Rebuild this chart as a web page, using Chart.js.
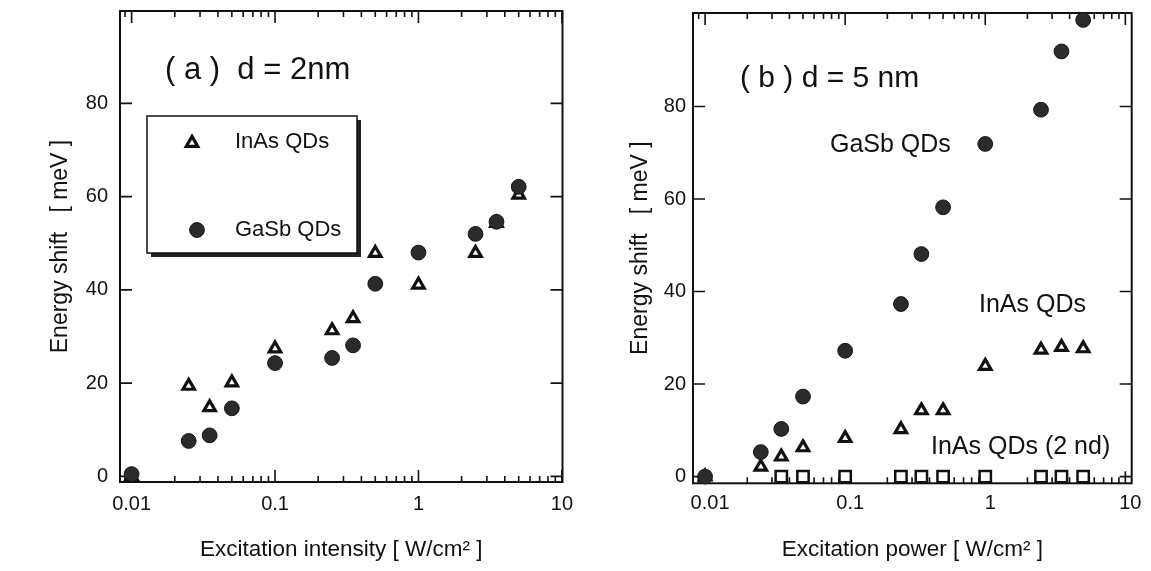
<!DOCTYPE html>
<html>
<head>
<meta charset="utf-8">
<script src="https://cdn.jsdelivr.net/npm/chart.js@4.4.0/dist/chart.umd.min.js"></script>
<style>
html, body { margin: 0; padding: 0; background: #fff; }
#wrap { position: relative; width: 1151px; height: 571px; }
canvas { position: absolute; top: 0; }
#chartA { left: 0; }
#chartB { left: 580px; }
</style>
</head>
<body>
<div id="wrap">
<canvas id="chartA" width="580" height="571"></canvas>
<canvas id="chartB" width="571" height="571"></canvas>
</div>
<script>
// excitation (W/cm2) and energy shift (meV)
const power = [0.01, 0.025, 0.035, 0.05, 0.1, 0.25, 0.35, 0.5, 1, 2.5, 3.5, 5];
const inasA = [0, 19.4, 14.8, 20.1, 27.4, 31.3, 33.9, 47.9, 41.1, 47.9, 54.3, 60.4];
const gasbA = [0.5, 7.6, 8.8, 14.6, 24.3, 25.4, 28.1, 41.3, 48, 52, 54.6, 62.1];
const inasB = [0, 2.1, 4.3, 6.3, 8.3, 10.2, 14.3, 14.3, 23.9, 27.4, 28, 27.7];
const gasbB = [0, 5.3, 10.3, 17.3, 27.2, 37.3, 48.1, 58.2, 71.9, 79.3, 91.9, 98.7];
const inas2ndB = [null, null, 0, 0, 0, 0, 0, 0, 0, 0, 0, 0];
const xTickValues = [0.01, 0.1, 1, 10];
const yTickValues = [0, 20, 40, 60, 80];

const FONT = '"Liberation Sans", Arial, Helvetica, sans-serif';
Chart.defaults.font.family = FONT;
Chart.defaults.color = '#111';

function pts(arr) {
	return power.map((x, i) => ({x: x, y: arr[i]})).filter(p => p.y !== null);
}

const circleStyle = {pointStyle: 'circle', pointRadius: 7.4, pointBackgroundColor: '#2b2b2b', pointBorderColor: '#151515', pointBorderWidth: 1};
const triStyle = {pointStyle: 'triangle', pointRadius: 6.6, pointBackgroundColor: '#fff', pointBorderColor: '#111', pointBorderWidth: 3.2};
const rectStyle = {pointStyle: 'rect', pointRadius: 8, pointBackgroundColor: '#fff', pointBorderColor: '#111', pointBorderWidth: 2.5};

// box, inward ticks on all four sides
const frameTicks = {
	id: 'frameTicks',
	beforeDatasetsDraw(chart) {
		const {ctx, chartArea: a, scales: {x, y}} = chart;
		ctx.save();
		ctx.strokeStyle = '#111';
		ctx.lineWidth = 2;
		ctx.strokeRect(a.left, a.top, a.width, a.height);
		ctx.lineWidth = 1.6;
		ctx.beginPath();
		for (let e = -3; e <= 1; e++) {
			for (let k = 1; k <= 9; k++) {
				const v = k * Math.pow(10, e);
				if (v < x.min || v > x.max) continue;
				const px = x.getPixelForValue(v);
				const len = k === 1 ? 12 : 6;
				ctx.moveTo(px, a.bottom); ctx.lineTo(px, a.bottom - len);
				ctx.moveTo(px, a.top); ctx.lineTo(px, a.top + len);
			}
		}
		yTickValues.forEach(v => {
			const py = y.getPixelForValue(v);
			ctx.moveTo(a.left, py); ctx.lineTo(a.left + 12, py);
			ctx.moveTo(a.right, py); ctx.lineTo(a.right - 12, py);
		});
		ctx.stroke();
		ctx.restore();
	}
};

// free text and the boxed legend, placed relative to the plot area
const notes = {
	id: 'notes',
	afterDatasetsDraw(chart, args, opts) {
		const {ctx, chartArea: a} = chart;
		ctx.save();
		if (opts.box) {
			const b = opts.box;
			ctx.fillStyle = '#222';
			ctx.fillRect(a.left + b.x + 4, a.top + b.y + 4, b.w, b.h);
			ctx.fillStyle = '#fff';
			ctx.fillRect(a.left + b.x, a.top + b.y, b.w, b.h);
			ctx.strokeStyle = '#111';
			ctx.lineWidth = 1.5;
			ctx.strokeRect(a.left + b.x, a.top + b.y, b.w, b.h);
			(opts.markers || []).forEach(m => {
				ctx.fillStyle = m.style.pointBackgroundColor;
				ctx.strokeStyle = m.style.pointBorderColor;
				ctx.lineWidth = m.style.pointBorderWidth;
				Chart.helpers.drawPoint(ctx, {pointStyle: m.style.pointStyle, radius: m.style.pointRadius, borderWidth: m.style.pointBorderWidth, rotation: 0}, a.left + m.x, a.top + m.y);
			});
		}
		ctx.fillStyle = '#111';
		ctx.textAlign = 'left';
		ctx.textBaseline = 'middle';
		(opts.texts || []).forEach(t => {
			ctx.font = t.size + 'px ' + FONT;
			ctx.fillText(t.text, a.left + t.x, a.top + t.y);
		});
		ctx.restore();
	}
};

function makeOptions(cfg) {
	return {
		responsive: false,
		animation: false,
		layout: {padding: {top: cfg.top, right: cfg.right, left: 0, bottom: 0}},
		plugins: {legend: {display: false}, tooltip: {enabled: false}, notes: cfg.notes},
		scales: {
			x: {
				type: 'logarithmic',
				min: cfg.xmin, max: cfg.xmax,
				grid: {display: false, drawTicks: false},
				border: {display: false},
				afterBuildTicks: s => { s.ticks = xTickValues.map(v => ({value: v})); },
				afterFit: s => { s.height = cfg.xh; s.paddingLeft = 0; s.paddingRight = 0; },
				ticks: {font: {size: 20}, padding: cfg.xpad, labelOffset: cfg.xoff, maxRotation: 0, callback: v => String(v)},
				title: {display: true, text: cfg.xtitle, font: {size: 22.5}, padding: {top: 0, bottom: 8}}
			},
			y: {
				min: cfg.ymin, max: cfg.ymax,
				grid: {display: false, drawTicks: false},
				border: {display: false},
				afterBuildTicks: s => { s.ticks = yTickValues.map(v => ({value: v})); },
				afterFit: s => { s.width = cfg.yw; s.paddingTop = 0; s.paddingBottom = 0; },
				ticks: {font: {size: 20}, padding: cfg.ypad},
				title: {display: true, text: 'Energy shift   [ meV ]', font: {size: 23}, padding: {top: 47, bottom: 0}}
			}
		}
	};
}

new Chart(document.getElementById('chartA').getContext('2d'), {
	type: 'scatter',
	data: {
		datasets: [
			Object.assign({label: 'GaSb QDs', data: pts(gasbA), clip: false}, circleStyle),
			Object.assign({label: 'InAs QDs', data: pts(inasA), clip: false}, triStyle)
		]
	},
	options: makeOptions({
		top: 11, right: 17.5, yw: 120, xh: 89, xpad: 10, xoff: 0, ypad: 12,
		xmin: 0.0083, xmax: 10.1, ymin: -1.2, ymax: 99.8,
		xtitle: 'Excitation intensity [ W/cm² ]',
		notes: {
			box: {x: 27, y: 105, w: 210, h: 137},
			markers: [{style: triStyle, x: 72, y: 132}, {style: circleStyle, x: 77, y: 219}],
			texts: [
				{text: '( a )  d = 2nm', x: 45, y: 59, size: 31},
				{text: 'InAs QDs', x: 115, y: 131, size: 22},
				{text: 'GaSb QDs', x: 115, y: 219, size: 22}
			]
		}
	}),
	plugins: [frameTicks, notes]
});

new Chart(document.getElementById('chartB').getContext('2d'), {
	type: 'scatter',
	data: {
		datasets: [
			Object.assign({label: 'GaSb QDs', data: pts(gasbB), clip: false}, circleStyle),
			Object.assign({label: 'InAs QDs', data: pts(inasB), clip: false}, triStyle),
			Object.assign({label: 'InAs QDs (2 nd)', data: pts(inas2ndB), clip: false}, rectStyle)
		]
	},
	options: makeOptions({
		top: 13, right: 19.3, yw: 113, xh: 87.7, xpad: 8, xoff: 5, ypad: 7,
		xmin: 0.0082, xmax: 11.1, ymin: -1.45, ymax: 100.2,
		xtitle: 'Excitation power [ W/cm² ]',
		notes: {
			texts: [
				{text: '( b ) d = 5 nm', x: 47, y: 66, size: 30},
				{text: 'GaSb QDs', x: 137, y: 132, size: 25},
				{text: 'InAs QDs', x: 286, y: 292, size: 25},
				{text: 'InAs QDs (2 nd)', x: 238, y: 434, size: 25}
			]
		}
	}),
	plugins: [frameTicks, notes]
});
</script>
</body>
</html>
